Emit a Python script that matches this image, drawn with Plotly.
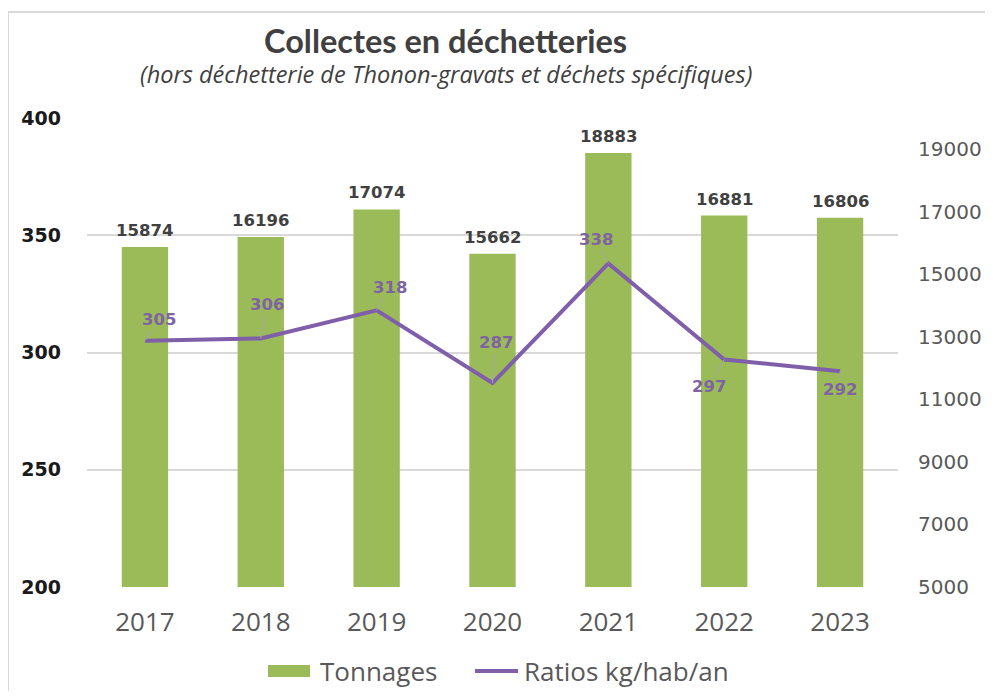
import plotly.graph_objects as go

years = ["2017", "2018", "2019", "2020", "2021", "2022", "2023"]
tonnages = [15874, 16196, 17074, 15662, 18883, 16881, 16806]
ratios = [305, 306, 318, 287, 338, 297, 292]
# label offsets (pixels) for the ratio data labels
label_dx = [14, 6, 13, 3, -12, -15, 0]
label_dy = [-21, -34, -23, -40, -24, 27, 18]

left_ticks = [200, 250, 300, 350, 400]
right_ticks = [5000, 7000, 9000, 11000, 13000, 15000, 17000, 19000]

GREEN = "#9BBB59"
PURPLE = "#7F5FA9"

# plot area in reference pixels
PL, PR, PT, PB = 87, 898, 118, 587
PW, PH = PR - PL, PB - PT


def px(x):
    return (x - PL) / PW


def py(y):
    return (PB - y) / PH


fig = go.Figure()
fig.add_trace(go.Bar(
    x=years, y=tonnages, name="Tonnages", yaxis="y",
    marker=dict(color=GREEN, line=dict(width=0)),
    width=0.4, showlegend=False,
))
fig.add_trace(go.Scatter(
    x=years, y=ratios, name="Ratios kg/hab/an", yaxis="y2",
    mode="lines", line=dict(color=PURPLE, width=4), showlegend=False,
))

# bar value labels
for i, v in enumerate(tonnages):
    fig.add_annotation(
        x=i, y=v, xref="x", yref="y", text=str(v), showarrow=False,
        yanchor="bottom", yshift=5,
        font=dict(family="DejaVu Sans", size=16.5, color="#404040", weight="bold"),
    )

# ratio labels with leader lines
for i, (y, dx, dy) in enumerate(zip(ratios, label_dx, label_dy)):
    fig.add_annotation(
        x=i, y=y, xref="x", yref="y2", text=str(y),
        ax=dx, ay=dy, showarrow=True, arrowhead=0, arrowwidth=1,
        arrowcolor="#A6A6A6", standoff=0,
        font=dict(family="DejaVu Sans", size=16.5, color="#8064A2", weight="bold"),
    )

fig.add_annotation(
    text="<b>Collectes en déchetteries</b>", xref="paper", yref="paper",
    x=px(445), y=py(41), showarrow=False,
    xanchor="center", yanchor="middle",
    font=dict(family="Lato", size=32.5, color="#404040"),
)
fig.add_annotation(
    text="<i>(hors déchetterie de Thonon-gravats et déchets spécifiques)</i>",
    xref="paper", yref="paper",
    x=px(446), y=py(74), showarrow=False,
    xanchor="center", yanchor="middle",
    font=dict(family="Open Sans", size=23.5, color="#404040"),
)

# custom legend
fig.add_shape(type="rect", xref="paper", yref="paper",
              x0=px(268), x1=px(310), y0=py(677), y1=py(665),
              fillcolor=GREEN, line=dict(width=0))
fig.add_shape(type="line", xref="paper", yref="paper",
              x0=px(475), x1=px(518), y0=py(671), y1=py(671),
              line=dict(color=PURPLE, width=4))
fig.add_annotation(text="Tonnages", xref="paper", yref="paper",
                   x=px(318), y=py(671), xanchor="left", yanchor="middle",
                   showarrow=False,
                   font=dict(family="Open Sans", size=26, color="#595959"))
fig.add_annotation(text="Ratios kg/hab/an", xref="paper", yref="paper",
                   x=px(522), y=py(671), xanchor="left", yanchor="middle",
                   showarrow=False,
                   font=dict(family="Open Sans", size=26, color="#595959"))

# outer frame lines
fig.add_shape(type="line", xref="paper", yref="paper",
              x0=px(8), x1=px(1010), y0=py(12), y1=py(12),
              line=dict(color="#D9D9D9", width=2))
fig.add_shape(type="line", xref="paper", yref="paper",
              x0=px(8), x1=px(8), y0=py(12), y1=py(720),
              line=dict(color="#D9D9D9", width=2))

W, H = 977, 683  # page body margin of 8px
fig.update_layout(
    width=W, height=H,
    margin=dict(l=PL - 8, r=W - (PR - 8), t=PT - 8, b=H - (PB - 8)),
    paper_bgcolor="white", plot_bgcolor="white",
    showlegend=False,
    xaxis=dict(
        type="category", range=[-0.5, 6.5], showgrid=False, showline=False, ticks="",
        tickfont=dict(family="Open Sans", size=26, color="#595959"),
        ticklabelstandoff=17, automargin=False,
    ),
    yaxis=dict(
        range=[5000, 20000], tickvals=right_ticks,
        ticktext=[str(v) for v in right_ticks], side="right",
        showgrid=False, zeroline=False, showline=False, ticks="",
        tickfont=dict(family="DejaVu Sans", size=20, color="#595959"),
        ticklabelstandoff=19, automargin=False,
    ),
    yaxis2=dict(
        range=[200, 400], tickvals=left_ticks, side="left", overlaying="y",
        showgrid=True, gridcolor="#D9D9D9", gridwidth=1.5, zeroline=False,
        showline=False, ticks="",
        tickfont=dict(family="DejaVu Sans", size=19, color="#1A1A1A", weight="bold"),
        ticklabelstandoff=25, automargin=False,
    ),
    bargap=0.6,
)

fig.write_html("out.html")
